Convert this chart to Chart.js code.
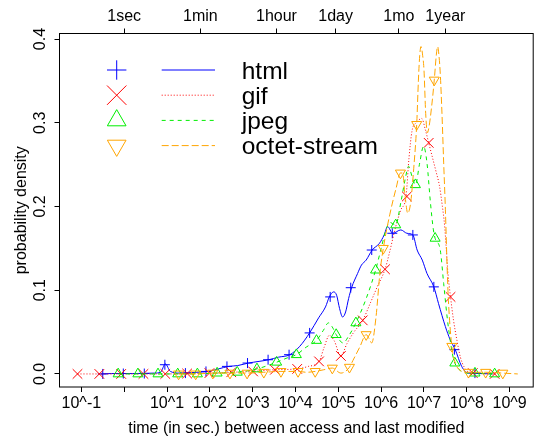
<!DOCTYPE html>
<html>
<head>
<meta charset="utf-8">
<script src="https://cdn.jsdelivr.net/npm/chart.js@4.4.0/dist/chart.umd.min.js"></script>
<style>
  html, body { margin: 0; padding: 0; background: #fff; }
  #wrap { width: 541px; height: 440px; }
</style>
</head>
<body>
<div id="wrap"><canvas id="chart" width="541" height="440"></canvas></div>
<script>
// x values are log10(seconds), y values are probability density

// html
const htmlX = [-0.54, -0.3, 0.2, 0.7, 0.85, 0.96, 1.08, 1.3, 1.7, 1.96, 2.2, 2.44, 2.65, 2.9, 3.15, 3.38, 3.6, 3.87, 4.1, 4.33, 4.54, 4.7, 4.79, 4.89, 4.96, 5.03, 5.1, 5.17, 5.24, 5.31, 5.45, 5.54, 5.65, 5.79, 5.96, 6.07, 6.15, 6.27, 6.46, 6.6, 6.74, 6.84, 6.96, 7.07, 7.23, 7.34, 7.5, 7.61, 7.73, 7.88, 8.03, 8.3, 8.6];
const htmlY = [0, 0.0005, 0.0005, 0.001, 0.002, 0.012, 0.003, 0.001, 0.002, 0.003, 0.006, 0.009, 0.010, 0.013, 0.015, 0.017, 0.020, 0.023, 0.033, 0.049, 0.067, 0.080, 0.092, 0.098, 0.094, 0.078, 0.068, 0.074, 0.090, 0.103, 0.120, 0.130, 0.136, 0.148, 0.156, 0.166, 0.176, 0.168, 0.172, 0.168, 0.166, 0.148, 0.136, 0.120, 0.104, 0.084, 0.0565, 0.041, 0.029, 0.009, 0.001, 0.0005, 0];
const htmlMarkX = [-0.5, -0.02, 0.47, 0.95, 1.43, 1.91, 2.4, 2.88, 3.36, 3.85, 4.33, 4.81, 5.29, 5.78, 6.26, 6.74, 7.23, 7.71, 8.19];
const htmlMarkY = [0, 0.0005, 0.0005, 0.011, 0.001, 0.003, 0.009, 0.013, 0.017, 0.023, 0.049, 0.092, 0.103, 0.148, 0.168, 0.166, 0.104, 0.029, 0.001];

// gif
const gifX = [-1.09, -0.5, 0, 0.5, 1.0, 1.5, 2.0, 2.5, 3.0, 3.5, 4.03, 4.3, 4.55, 4.67, 4.79, 4.9, 5.06, 5.2, 5.35, 5.57, 5.75, 5.9, 6.09, 6.19, 6.34, 6.46, 6.58, 6.65, 6.72, 6.82, 6.95, 7.03, 7.11, 7.18, 7.28, 7.36, 7.43, 7.48, 7.52, 7.56, 7.62, 7.69, 7.77, 7.85, 7.93, 8.05, 8.3, 8.65];
const gifY = [0, 0, 0, 0, 0, 0.0005, 0.001, 0.002, 0.003, 0.005, 0.006, 0.009, 0.015, 0.032, 0.046, 0.040, 0.0215, 0.036, 0.049, 0.064, 0.085, 0.103, 0.125, 0.144, 0.176, 0.196, 0.212, 0.258, 0.290, 0.300, 0.305, 0.292, 0.276, 0.262, 0.242, 0.225, 0.200, 0.178, 0.150, 0.120, 0.092, 0.064, 0.040, 0.020, 0.009, 0.002, 0.0005, 0];
const gifMarkX = [-1.09, -0.58, -0.07, 0.45, 0.96, 1.47, 1.99, 2.5, 3.01, 3.52, 4.04, 4.55, 5.06, 5.57, 6.09, 6.6, 7.11, 7.62, 8.14, 8.65];
const gifMarkY = [0, 0, 0, 0, 0, 0.0005, 0.001, 0.002, 0.003, 0.005, 0.006, 0.015, 0.0215, 0.064, 0.125, 0.212, 0.276, 0.092, 0.001, 0];

// jpeg
const jpegX = [-0.14, 0.5, 1.0, 1.5, 2.17, 2.64, 3.1, 3.56, 3.8, 4.02, 4.25, 4.49, 4.65, 4.77, 4.86, 4.95, 5.11, 5.25, 5.41, 5.65, 5.87, 6.0, 6.1, 6.2, 6.34, 6.46, 6.57, 6.64, 6.72, 6.8, 6.9, 6.99, 7.07, 7.15, 7.22, 7.26, 7.38, 7.46, 7.54, 7.61, 7.68, 7.72, 7.85, 8.0, 8.19, 8.65];
const jpegY = [0, 0, 0, 0, 0.001, 0.002, 0.006, 0.014, 0.019, 0.023, 0.032, 0.040, 0.052, 0.061, 0.056, 0.047, 0.037, 0.046, 0.061, 0.090, 0.124, 0.150, 0.170, 0.181, 0.178, 0.205, 0.235, 0.248, 0.236, 0.226, 0.252, 0.272, 0.252, 0.205, 0.172, 0.162, 0.148, 0.108, 0.068, 0.041, 0.020, 0.013, 0.004, 0.001, 0.001, 0];
const jpegMarkX = [-0.14, 0.32, 0.79, 1.25, 1.71, 2.17, 2.64, 3.1, 3.56, 4.02, 4.49, 4.95, 5.41, 5.87, 6.34, 6.8, 7.26, 7.72, 8.19, 8.65];
const jpegMarkY = [0, 0, 0, 0, 0, 0.001, 0.002, 0.006, 0.014, 0.023, 0.040, 0.047, 0.061, 0.124, 0.178, 0.226, 0.162, 0.013, 0.001, 0];

// octet-stream
const octetX = [1.27, 1.67, 2.07, 2.47, 2.87, 3.26, 3.66, 4.06, 4.26, 4.46, 4.66, 4.86, 5.06, 5.26, 5.34, 5.5, 5.65, 5.72, 5.78, 5.88, 5.97, 6.05, 6.2, 6.35, 6.45, 6.5, 6.56, 6.62, 6.69, 6.76, 6.83, 6.87, 6.9, 6.93, 6.97, 7.0, 7.04, 7.08, 7.12, 7.18, 7.24, 7.29, 7.32, 7.35, 7.38, 7.42, 7.46, 7.5, 7.54, 7.57, 7.65, 7.72, 7.85, 8.04, 8.44, 8.84, 9.19];
const octetY = [0, 0, 0.001, 0.001, 0.001, 0.002, 0.003, 0.003, 0.002, 0.003, 0.005, 0.007, 0.001, 0.008, 0.016, 0.032, 0.047, 0.042, 0.037, 0.068, 0.120, 0.150, 0.190, 0.222, 0.240, 0.240, 0.212, 0.192, 0.205, 0.245, 0.298, 0.351, 0.380, 0.391, 0.380, 0.363, 0.311, 0.288, 0.296, 0.320, 0.351, 0.382, 0.391, 0.380, 0.359, 0.311, 0.252, 0.196, 0.128, 0.088, 0.033, 0.015, 0.004, 0.002, 0.002, 0.001, 0];
const octetMarkX = [1.27, 1.67, 2.07, 2.47, 2.87, 3.26, 3.66, 4.06, 4.46, 4.86, 5.26, 5.65, 6.05, 6.45, 6.83, 7.24, 7.65, 8.04, 8.44, 8.84];
const octetMarkY = [0, 0, 0.001, 0.001, 0.001, 0.002, 0.003, 0.003, 0.003, 0.007, 0.008, 0.047, 0.150, 0.240, 0.298, 0.351, 0.033, 0.002, 0.002, 0.001];

// axes
const bottomTicks = [-1, 0, 1, 2, 3, 4, 5, 6, 7, 8, 9];
const bottomLabels = ['10^-1', '', '10^1', '10^2', '10^3', '10^4', '10^5', '10^6', '10^7', '10^8', '10^9'];
const topTicks = [0, 1.778, 3.556, 4.936, 6.414, 7.499]; // log10 of 1s, 60s, 3600s, 86400s, 30 days, 365 days
const topLabels = ['1sec', '1min', '1hour', '1day', '1mo', '1year'];
const yTicks = [0, 0.1, 0.2, 0.3, 0.4];
const yLabels = ['0.0', '0.1', '0.2', '0.3', '0.4'];
const seriesNames = ['html', 'gif', 'jpeg', 'octet-stream'];

const FONT = '"Liberation Sans", Arial, Helvetica, sans-serif';
const colors = ['#0000ff', '#ff0000', '#00ee00', '#ffa500'];
const dashes = [[], [1, 2], [4, 4], [7, 3]];
const pStyles = ['cross', 'crossRot', 'triangle', 'triangle'];
const pRot = [0, 0, 0, 180];
const pRad = [5, 6.8, 5.8, 5.8];
const legendRad = [9.7, 13.7, 10.8, 10.8];

function pts(xs, ys) {
  return xs.map((x, i) => ({ x: x, y: ys[i] }));
}

const curves = [[htmlX, htmlY], [gifX, gifY], [jpegX, jpegY], [octetX, octetY]];
const marks = [[htmlMarkX, htmlMarkY], [gifMarkX, gifMarkY], [jpegMarkX, jpegMarkY], [octetMarkX, octetMarkY]];

const datasets = [];
seriesNames.forEach((name, i) => {
  datasets.push({
    label: name,
    data: pts(curves[i][0], curves[i][1]),
    borderColor: colors[i],
    borderWidth: 1,
    borderDash: dashes[i],
    pointRadius: 0,
    cubicInterpolationMode: 'monotone',
    fill: false,
    order: 10 - i
  });
  datasets.push({
    label: name + ' points',
    data: pts(marks[i][0], marks[i][1]),
    showLine: false,
    pointStyle: pStyles[i],
    pointRotation: pRot[i],
    pointRadius: pRad[i],
    pointBorderWidth: 1,
    pointBorderColor: colors[i],
    pointBackgroundColor: 'rgba(0,0,0,0)',
    order: 10 - i
  });
});

// box, rotated y labels, axis titles and the legend
const decorations = {
  id: 'decorations',
  afterDraw(chart) {
    const { ctx, chartArea: a, scales } = chart;
    ctx.save();
    ctx.strokeStyle = '#000';
    ctx.lineWidth = 1;
    ctx.setLineDash([]);
    ctx.strokeRect(a.left, a.top, a.right - a.left, a.bottom - a.top);

    ctx.fillStyle = '#000';
    ctx.font = '16px ' + FONT;
    ctx.textAlign = 'center';
    ctx.textBaseline = 'middle';
    yTicks.forEach((v, i) => {
      const py = scales.y.getPixelForValue(v);
      ctx.save();
      ctx.translate(41, py);
      ctx.rotate(-Math.PI / 2);
      ctx.fillText(yLabels[i], 0, 0);
      ctx.restore();
    });

    ctx.save();
    ctx.translate(21.5, (a.top + a.bottom) / 2);
    ctx.rotate(-Math.PI / 2);
    ctx.fillText('probability density', 0, 0);
    ctx.restore();

    ctx.textBaseline = 'alphabetic';
    ctx.fillText('time (in sec.) between access and last modified', (a.left + a.right) / 2, 433.3);

    // legend: marker, line sample, name
    const rows = [70, 95.2, 120.4, 145.6];
    ctx.font = '24.5px ' + FONT;
    ctx.textAlign = 'left';
    seriesNames.forEach((name, i) => {
      const y = rows[i];
      ctx.strokeStyle = colors[i];
      ctx.fillStyle = 'rgba(0,0,0,0)';
      ctx.lineWidth = 1;
      ctx.setLineDash([]);
      Chart.helpers.drawPoint(ctx, {
        pointStyle: pStyles[i],
        rotation: pRot[i],
        radius: legendRad[i],
        borderWidth: 1
      }, 116.7, y);
      ctx.setLineDash(dashes[i]);
      ctx.beginPath();
      ctx.moveTo(161.7, y);
      ctx.lineTo(215, y);
      ctx.stroke();
      ctx.setLineDash([]);
      ctx.fillStyle = '#000';
      ctx.fillText(name, 241.7, y + 8.5);
    });
    ctx.restore();
  }
};

const tickGrid = {
  display: true,
  drawOnChartArea: false,
  drawTicks: true,
  tickLength: 5,
  color: '#000',
  lineWidth: 1
};

function tickFont() {
  return { family: FONT, size: 16 };
}

new Chart(document.getElementById('chart'), {
  type: 'line',
  data: { datasets: datasets },
  plugins: [decorations],
  options: {
    responsive: false,
    devicePixelRatio: 1,
    animation: false,
    events: [],
    layout: { padding: { left: 0, right: 2, top: 0, bottom: 0 } },
    plugins: { legend: { display: false }, tooltip: { enabled: false } },
    scales: {
      x: {
        type: 'linear',
        position: 'bottom',
        min: -1.51,
        max: 9.55,
        afterBuildTicks(scale) { scale.ticks = bottomTicks.map(v => ({ value: v })); },
        afterFit(scale) { scale.height = 53; },
        border: { display: false },
        grid: tickGrid,
        ticks: {
          autoSkip: false,
          maxRotation: 0,
          minRotation: 0,
          padding: 2,
          color: '#000',
          font: tickFont(),
          callback: (v, i) => bottomLabels[i]
        }
      },
      x2: {
        type: 'linear',
        position: 'top',
        min: -1.51,
        max: 9.55,
        afterBuildTicks(scale) { scale.ticks = topTicks.map(v => ({ value: v })); },
        afterFit(scale) { scale.height = 33.5; },
        border: { display: false },
        grid: tickGrid,
        ticks: {
          autoSkip: false,
          maxRotation: 0,
          minRotation: 0,
          padding: 2,
          color: '#000',
          font: tickFont(),
          callback: (v, i) => topLabels[i]
        }
      },
      y: {
        type: 'linear',
        position: 'left',
        min: -0.0156,
        max: 0.4066,
        afterBuildTicks(scale) { scale.ticks = yTicks.map(v => ({ value: v })); },
        afterFit(scale) { scale.width = 59.5; },
        border: { display: false },
        grid: tickGrid,
        ticks: { display: false }
      }
    }
  }
});
</script>
</body>
</html>
